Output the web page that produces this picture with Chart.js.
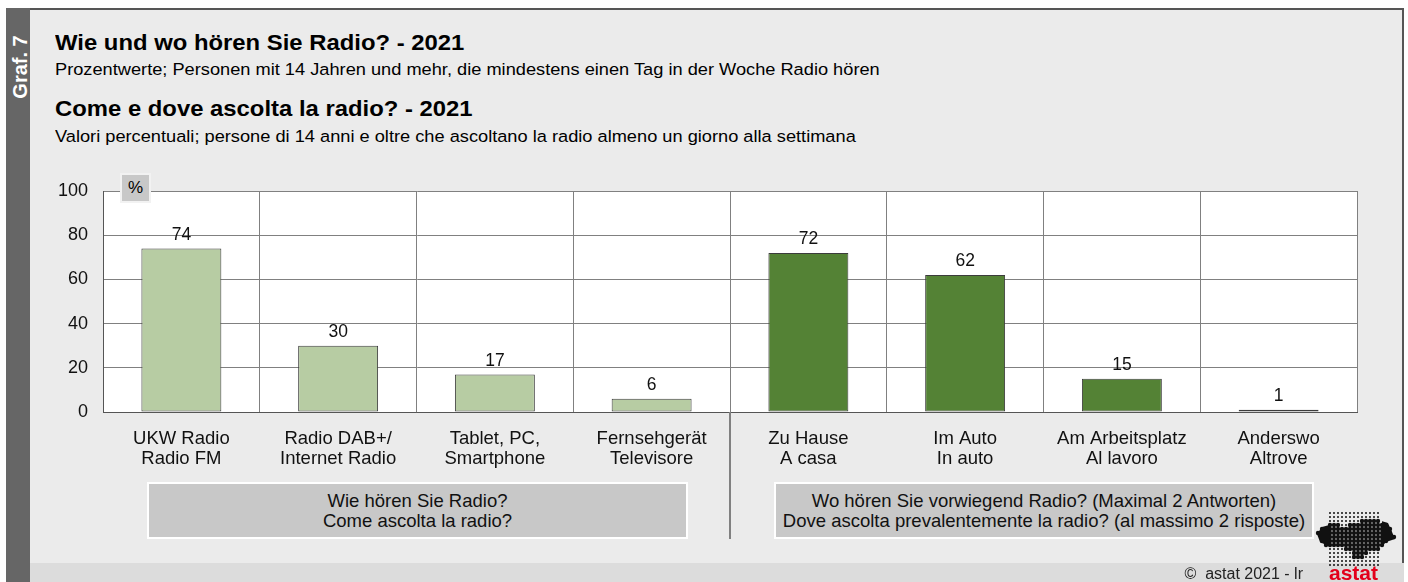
<!DOCTYPE html>
<html>
<head>
<meta charset="utf-8">
<script src="https://cdn.jsdelivr.net/npm/chart.js@4"></script>
<style>
  html, body { margin: 0; padding: 0; background: #ffffff; }
  body { width: 1408px; height: 582px; position: relative; overflow: hidden;
         font-family: "Liberation Sans", Arial, sans-serif; color: #000; }
  #rahmen { position: absolute; left: 6px; top: 8px; width: 1396px; height: 580px;
            background: #ebebeb; border-top: 2px solid #555; border-right: 2px solid #555; }
  #streifen { position: absolute; left: 6px; top: 8px; width: 24px; height: 574px; background: #666; }
  #graf { position: absolute; left: 20px; top: 67px; transform: translate(-50%, -50%) rotate(-90deg);
          color: #fff; font-weight: bold; font-size: 20px; white-space: nowrap; line-height: 20px; }
  #fuss { position: absolute; left: 30px; top: 563px; width: 1374px; height: 19px; background: #dcdcdc; }
  .t { position: absolute; left: 55px; white-space: nowrap; transform-origin: 0 0; transform: scaleX(1.06); }
  .h { font-weight: bold; font-size: 22.5px; line-height: 22.5px; }
  .s { font-size: 17.2px; line-height: 17.2px; }
  .box { position: absolute; top: 482px; height: 57px; background: #c8c8c8; border: 2px solid #fff;
         text-align: center; font-size: 18.5px; line-height: 20px; padding-top: 7px; box-sizing: border-box;
         white-space: nowrap; color: #111; }
  #prozent { position: absolute; left: 120px; top: 173px; width: 31px; height: 30px; background: #c8c8c8;
             border: 2px solid #f2f2f2; box-sizing: border-box; text-align: center; font-size: 17px; line-height: 25px; }
  #copy { position: absolute; right: 105px; top: 566px; font-size: 16px; line-height: 16px; color: #222; white-space: nowrap; }
  #astat { position: absolute; left: 1329px; top: 562px; font-size: 21px; line-height: 21px; font-weight: bold; color: #e3001b; }
  canvas { position: absolute; left: 0; top: 0; }
</style>
</head>
<body>
<div id="rahmen"></div>
<div id="streifen"></div>
<div id="graf">Graf. 7</div>
<div id="fuss"></div>
<div class="t h" style="top:32px">Wie und wo hören Sie Radio? - 2021</div>
<div class="t s" style="top:61px">Prozentwerte; Personen mit 14 Jahren und mehr, die mindestens einen Tag in der Woche Radio hören</div>
<div class="t h" style="top:98px">Come e dove ascolta la radio? - 2021</div>
<div class="t s" style="top:128px">Valori percentuali; persone di 14 anni e oltre che ascoltano la radio almeno un giorno alla settimana</div>
<canvas id="grafik" width="1408" height="582"></canvas>
<div id="prozent">%</div>
<div class="box" style="left:147px; width:541px">Wie hören Sie Radio?<br>Come ascolta la radio?</div>
<div class="box" style="left:774px; width:540px">Wo hören Sie vorwiegend Radio? (Maximal 2 Antworten)<br>Dove ascolta prevalentemente la radio? (al massimo 2 risposte)</div>
<div id="copy">©&nbsp; astat 2021 - lr</div>
<div id="astat">astat</div>
<script>
// Daten
var kategorien = [
  ["UKW Radio", "Radio FM"],
  ["Radio DAB+/", "Internet Radio"],
  ["Tablet, PC,", "Smartphone"],
  ["Fernsehgerät", "Televisore"],
  ["Zu Hause", "A casa"],
  ["Im Auto", "In auto"],
  ["Am Arbeitsplatz", "Al lavoro"],
  ["Anderswo", "Altrove"]
];
var werte = [74, 30, 17, 6, 72, 62, 15, 1];
var gruppe = ["wie", "wie", "wie", "wie", "wo", "wo", "wo", "wo"];
var yTicks = [0, 20, 40, 60, 80, 100];

var farbe = { wie: "#b7cca3", wo: "#548235" };
var schrift = "'Liberation Sans', Arial, sans-serif";

// Umriss des Logos (vereinfacht)
var logo = new Path2D(
  "M1317 534 L1322 527 L1333 524 L1345 526 L1360 521 L1378 520 L1388 523 L1392 532 L1395 539 " +
  "L1386 542 L1380 549 L1370 550 L1364 558 L1356 560 L1350 552 L1340 546 L1328 546 L1320 542 Z"
);

var zeichnen = {
  id: "zeichnen",
  beforeDraw: function (chart) {
    var a = chart.chartArea;
    var ctx = chart.ctx;
    ctx.save();
    ctx.fillStyle = "#ffffff";
    ctx.fillRect(a.left, a.top, a.right - a.left, a.bottom - a.top);
    ctx.restore();
  },
  afterDatasetsDraw: function (chart) {
    var ctx = chart.ctx;
    var meta = chart.getDatasetMeta(0);
    ctx.save();
    // Trennlinie zwischen den Gruppen
    var xTrenn = (meta.data[3].x + meta.data[4].x) / 2;
    ctx.strokeStyle = "#808080";
    ctx.lineWidth = 2;
    ctx.beginPath();
    ctx.moveTo(Math.round(xTrenn), chart.chartArea.bottom);
    ctx.lineTo(Math.round(xTrenn), 539);
    ctx.stroke();
    // Werte ueber den Balken
    ctx.fillStyle = "#111";
    ctx.font = "17.5px " + schrift;
    ctx.textAlign = "center";
    ctx.textBaseline = "bottom";
    meta.data.forEach(function (bar, i) {
      ctx.fillText(werte[i], bar.x, bar.y - 5);
    });
    // Logo: Rasterpunkte, im Umriss groesser
    ctx.fillStyle = "#111";
    for (var py = 513; py <= 565; py += 4) {
      for (var px = 1318; px <= 1394; px += 4) {
        var innen = ctx.isPointInPath(logo, px, py);
        var rand = px < 1330 || px > 1380;
        if (!innen && rand) continue;
        ctx.beginPath();
        ctx.arc(px, py, innen ? 2.2 : 1, 0, Math.PI * 2);
        ctx.fill();
      }
    }
    // dichte Raender links und rechts
    ctx.save();
    ctx.clip(logo);
    ctx.fillRect(1315, 515, 14, 40);
    ctx.fillRect(1382, 515, 15, 40);
    ctx.restore();
    ctx.restore();
  }
};

var ctx = document.getElementById("grafik");
window.grafik = new Chart(ctx, {
  type: "bar",
  data: {
    labels: kategorien,
    datasets: [
      {
        label: "Prozent",
        data: werte,
        backgroundColor: gruppe.map(function (g) { return farbe[g]; }),
        borderColor: "#3c3c3c",
        borderWidth: 1,
        borderSkipped: false,
        categoryPercentage: 1,
        barPercentage: 0.51
      }
    ]
  },
  options: {
    responsive: false,
    animation: false,
    layout: { padding: { left: 40, top: 191, right: 51, bottom: 110 } },
    plugins: { legend: { display: false }, tooltip: { enabled: false } },
    scales: {
      x: {
        grid: { color: "#808080", lineWidth: 1, drawTicks: false, offset: true },
        border: { color: "#555", width: 1 },
        ticks: {
          color: "#111",
          padding: 17,
          font: { family: schrift, size: 18.5, lineHeight: 1.08 },
          maxRotation: 0,
          autoSkip: false
        },
        afterFit: function (s) { s.height = 60; }
      },
      y: {
        min: 0,
        max: 100,
        afterBuildTicks: function (s) {
          s.ticks = yTicks.map(function (v) { return { value: v }; });
        },
        grid: { color: "#808080", lineWidth: 1, drawTicks: false },
        border: { color: "#555", width: 1 },
        ticks: {
          color: "#111",
          padding: 15,
          font: { family: schrift, size: 18 }
        },
        afterFit: function (s) { s.width = 63; }
      }
    }
  },
  plugins: [zeichnen]
});
</script>
</body>
</html>
